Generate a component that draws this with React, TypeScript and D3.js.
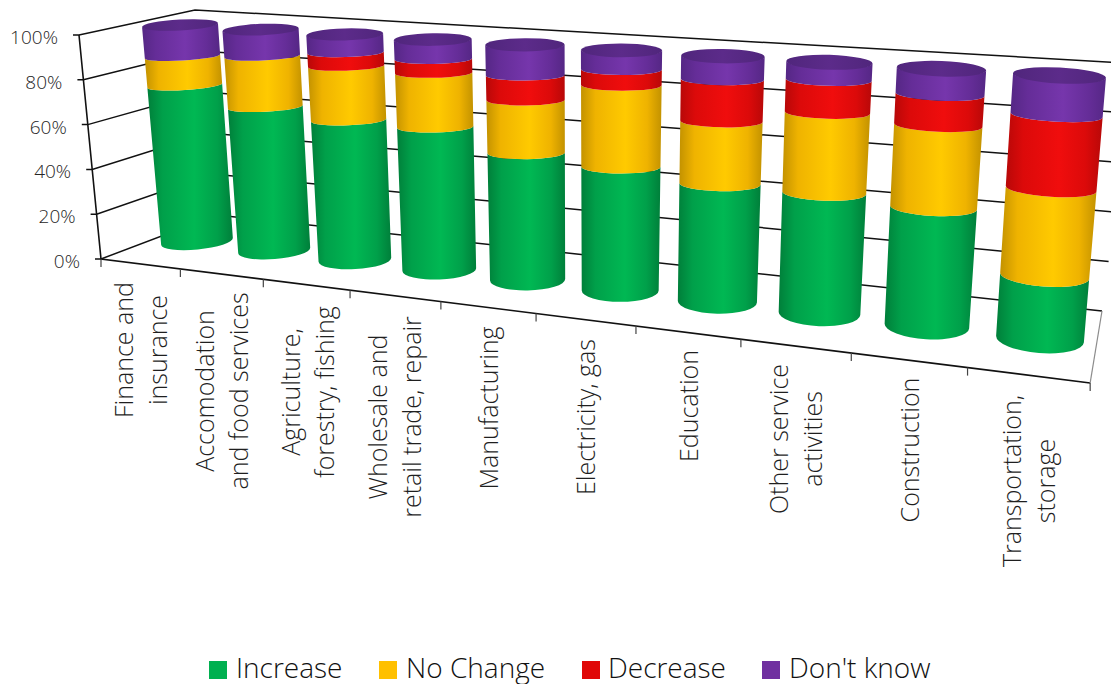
import React from "react";
import * as d3 from "d3";

// ---- data ----
const categories = [
  ["Finance and", "insurance"],
  ["Accomodation", "and food services"],
  ["Agriculture,", "forestry, fishing"],
  ["Wholesale and", "retail trade, repair"],
  ["Manufacturing"],
  ["Electricity, gas"],
  ["Education"],
  ["Other service", "activities"],
  ["Construction"],
  ["Transportation,", "storage"],
];
const increase = [72, 65, 62, 62, 54, 51.5, 48, 48, 46, 24];
const noChange = [13.5, 23, 24, 23.5, 22.5, 34, 25.5, 32, 32, 33];
const decrease = [0, 0, 6, 6, 10.5, 6.5, 17, 13, 12, 28];
const dontKnow = [14.5, 12, 8, 8.5, 13, 8, 9.5, 7, 10, 15];
const seriesNames = ["Increase", "No Change", "Decrease", "Don't know"];
const seriesValues = [increase, noChange, decrease, dontKnow];
const yTicks = [0, 20, 40, 60, 80, 100];

// ---- style / layout ----
const FONT = "'Open Sans', sans-serif";
const seriesColors = [
  { edge: "#007f3a", side: "#00a04a", mid: "#00b853" },
  { edge: "#c39200", side: "#efb300", mid: "#ffca00" },
  { edge: "#b80808", side: "#dc0a0a", mid: "#f00d0d" },
  { edge: "#552785", side: "#652d98", mid: "#7636ac" },
];
const swatchColors = ["#00b050", "#ffc000", "#e00808", "#7030a0"];
const legendSwatchX = [209, 379, 582, 762];
const legendTextX = [236, 406, 608, 789];
const labelBaselineX = [133, 214, 300, 387, 498, 595, 698, 788, 919, 1021];
const labelCenterY = [350, 391, 392, 417, 408, 417, 406, 439, 450, 481];
const labelLineStep = 34;

const PERSPECTIVE = -0.0215;
const persp = (p: number, end: number) => (i: number) => {
  // projective mapping fixed by the value at index 0 and index 9
  const q = (end * (1 + 9 * PERSPECTIVE) - p) / 9;
  return (p + q * i) / (1 + PERSPECTIVE * i);
};
const topCx = persp(180, 1059.5);
const botCx = persp(197, 1040);
const topCy = persp(25, 75.5);
const botCy = persp(241.5, 339);
const topRx = d3.scalePow().exponent(2).domain([0, 9]).range([38, 46.5]);
const botRx = d3.scalePow().exponent(2).domain([0, 9]).range([36, 44]);
const capRy = d3.scaleLinear().domain([0, 9]).range([5.5, 8]);
const bandTopRy = d3.scaleLinear().domain([0, 9]).range([4, 6.5]);
const botRy = d3.scaleLinear().domain([0, 9]).range([8, 14]);
const topTilt = d3.scaleLinear().domain([0, 9]).range([-3, 3]);
const botTilt = d3.scaleLinear().domain([0, 9]).range([-5.5, 4.5]);

const valueT = d3.scaleLinear().domain([0, 100]).range([0, 1]);

function ring(i: number, v: number) {
  const t = valueT(v);
  const mix = d3.interpolateNumber;
  const cx = mix(botCx(i), topCx(i))(t);
  const cy = mix(botCy(i), topCy(i))(t);
  const rx = mix(botRx(i), topRx(i))(t);
  const ry = mix(bandTopRy(i), botRy(i))((1 - t) * (1 - t));
  const tilt = mix(botTilt(i), topTilt(i))(t);
  const a = (tilt * Math.PI) / 180;
  return {
    cx, cy, rx, ry, tilt,
    lx: cx - rx * Math.cos(a), ly: cy - rx * Math.sin(a),
    rx2: cx + rx * Math.cos(a), ry2: cy + rx * Math.sin(a),
  };
}

function bandPath(i: number, v0: number, v1: number) {
  const a = ring(i, v0);
  const b = ring(i, v1);
  return (
    `M${a.lx},${a.ly}A${a.rx},${a.ry} ${a.tilt} 0 0 ${a.rx2},${a.ry2}` +
    `L${b.rx2},${b.ry2}A${b.rx},${b.ry} ${b.tilt} 0 1 ${b.lx},${b.ly}Z`
  );
}

// axes frame
const frontWallX = d3.scaleLinear().domain([0, 100]).range([101, 79]);
const frontWallY = d3.scaleLinear().domain([0, 100]).range([259, 35]);
const backLeftX = d3.scaleLinear().domain([0, 100]).range([217, 195]);
const backLeftY = d3.scaleLinear().domain([0, 100]).range([215, 10]);
const backRightX = d3.scaleLinear().domain([0, 100]).range([1102, 1135]);
const backRightY = d3.scaleLinear().domain([0, 100]).range([311, 63.5]);

const edgeW = (t: number) => 1 - 0.02148 * t;
const edgeX = (t: number) => (101 + 75.5 * t) / edgeW(t);
const edgeY = (t: number) => (259 + 4.17 * t) / edgeW(t);

const line = d3.line<[number, number]>();
const AXIS = "#111";

export default function App() {
  return (
    <svg
      width={1111}
      height={684}
      viewBox="0 0 1111 684"
      style={{ position: "absolute", left: 0, top: 0, background: "#fff" }}
    >
      <defs>
        {seriesColors.map((c, s) => (
          <linearGradient key={s} id={`g${s}`} x1="0" x2="1" y1="0" y2="0">
            <stop offset="0" stopColor={c.edge} />
            <stop offset="0.18" stopColor={c.side} />
            <stop offset="0.55" stopColor={c.mid} />
            <stop offset="0.82" stopColor={c.side} />
            <stop offset="1" stopColor={c.edge} />
          </linearGradient>
        ))}
        <linearGradient id="gTop" x1="0" x2="1" y1="0" y2="0">
          <stop offset="0" stopColor="#50267c" />
          <stop offset="0.5" stopColor="#5c2b8a" />
          <stop offset="1" stopColor="#50267c" />
        </linearGradient>
      </defs>

      {/* walls */}
      {yTicks.map((v) => (
        <path
          key={v}
          fill="none"
          stroke={AXIS}
          strokeWidth={1.5}
          d={line([
            [frontWallX(v) - 6, frontWallY(v)],
            [frontWallX(v), frontWallY(v)],
            [backLeftX(v), backLeftY(v)],
            [backRightX(v), backRightY(v)],
          ]) as string}
        />
      ))}
      <path
        d={line([
          [frontWallX(100), frontWallY(100)],
          [frontWallX(0), frontWallY(0)],
          [edgeX(10), edgeY(10)],
        ]) as string}
        fill="none"
        stroke={AXIS}
        strokeWidth={1.6}
      />
      <path
        d={line([
          [edgeX(10), edgeY(10)],
          [backRightX(0), backRightY(0)],
        ]) as string}
        fill="none"
        stroke="#8c8c8c"
        strokeWidth={1.2}
      />
      {d3.range(11).map((t) => (
        <line
          key={t}
          x1={edgeX(t)}
          x2={edgeX(t)}
          y1={edgeY(t)}
          y2={edgeY(t) + 8}
          stroke="#444"
          strokeWidth={1.2}
        />
      ))}

      {/* y tick labels */}
      {yTicks.map((v) => (
        <text
          key={v}
          x={frontWallX(v) - 21}
          y={frontWallY(v) + 9}
          textAnchor="end"
          fontFamily={FONT}
          fontWeight={300}
          fontSize={19}
          fill="#262626"
        >
          {v}%
        </text>
      ))}

      {/* cylinders */}
      {categories.map((_, i) => {
        let acc = 0;
        const top = ring(i, 100);
        return (
          <g key={i}>
            {seriesValues.map((vals, s) => {
              const v0 = acc;
              acc += vals[i];
              if (vals[i] <= 0) return null;
              return <path key={s} d={bandPath(i, v0, acc)} fill={`url(#g${s})`} />;
            })}
            <ellipse
              cx={0}
              cy={0}
              rx={top.rx}
              ry={capRy(i)}
              transform={`translate(${top.cx},${top.cy}) rotate(${top.tilt})`}
              fill="url(#gTop)"
            />
          </g>
        );
      })}

      {/* category labels */}
      {categories.map((lines, i) =>
        lines.map((txt, k) => (
          <text
            key={k}
            transform={`translate(${labelBaselineX[i] + k * labelLineStep},${labelCenterY[i]}) rotate(-90)`}
            textAnchor="middle"
            fontFamily={FONT}
            fontWeight={300}
            fontSize={25}
            fill="#1f1f1f"
          >
            {txt}
          </text>
        ))
      )}

      {/* legend */}
      {seriesNames.map((n, s) => (
        <g key={n}>
          <rect x={legendSwatchX[s]} y={661} width={18} height={18} fill={swatchColors[s]} />
          <text
            x={legendTextX[s]}
            y={678}
            fontFamily={FONT}
            fontWeight={300}
            fontSize={28}
            fill="#111"
          >
            {n}
          </text>
        </g>
      ))}
    </svg>
  );
}
